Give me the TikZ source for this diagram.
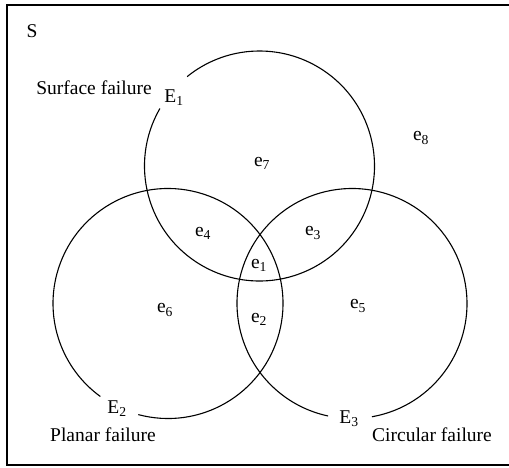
\documentclass[tikz,border=0pt]{standalone}
\usepackage{fontspec}
\setmainfont{Liberation Serif}
\begin{document}
\begin{tikzpicture}[x=1pt,y=1pt,
  lbl/.style={inner sep=0pt,font=\fontsize{19.5}{23}\selectfont},
  ring/.style={line width=1.1pt},
  frame/.style={line width=1.4pt}]
\useasboundingbox (0,0) rectangle (509,467);
% frame
\coordinate (f1) at (510,462);
\coordinate (f2) at (7,462);
\coordinate (f3) at (7,2);
\coordinate (f4) at (510,2);
\draw[frame] (f1) -- (f2) -- (f3) -- (f4);
% circles
\coordinate (c1) at (259.5,301);
\coordinate (c2) at (168,163.5);
\coordinate (c3) at (352,163.5);
\draw[ring] ([shift={(150:115)}]c1) arc[start angle=150,end angle=489,radius=115];
\draw[ring] ([shift={(-105:115)}]c2) arc[start angle=-105,end angle=234,radius=115];
\draw[ring] ([shift={(-80:115)}]c3) arc[start angle=-80,end angle=258,radius=115];
% labels
\node[lbl] (S) at (32,436) {S};
\node[lbl] (sf) at (94,379) {Surface failure};
\node[lbl] (E1) at (174,369) {E\textsubscript{1}};
\node[lbl] (e8) at (421,329) {e\textsubscript{8}};
\node[lbl] (e7) at (262,304) {e\textsubscript{7}};
\node[lbl] (e4) at (203,234) {e\textsubscript{4}};
\node[lbl] (e3) at (313,234) {e\textsubscript{3}};
\node[lbl] (e1) at (259,202) {e\textsubscript{1}};
\node[lbl] (e6) at (165,157) {e\textsubscript{6}};
\node[lbl] (e2) at (259,148) {e\textsubscript{2}};
\node[lbl] (e5) at (358,161) {e\textsubscript{5}};
\node[lbl] (E2) at (117,58) {E\textsubscript{2}};
\node[lbl] (pf) at (103,32) {Planar failure};
\node[lbl] (E3) at (349,48) {E\textsubscript{3}};
\node[lbl] (cf) at (432,32) {Circular failure};
\end{tikzpicture}
\end{document}
